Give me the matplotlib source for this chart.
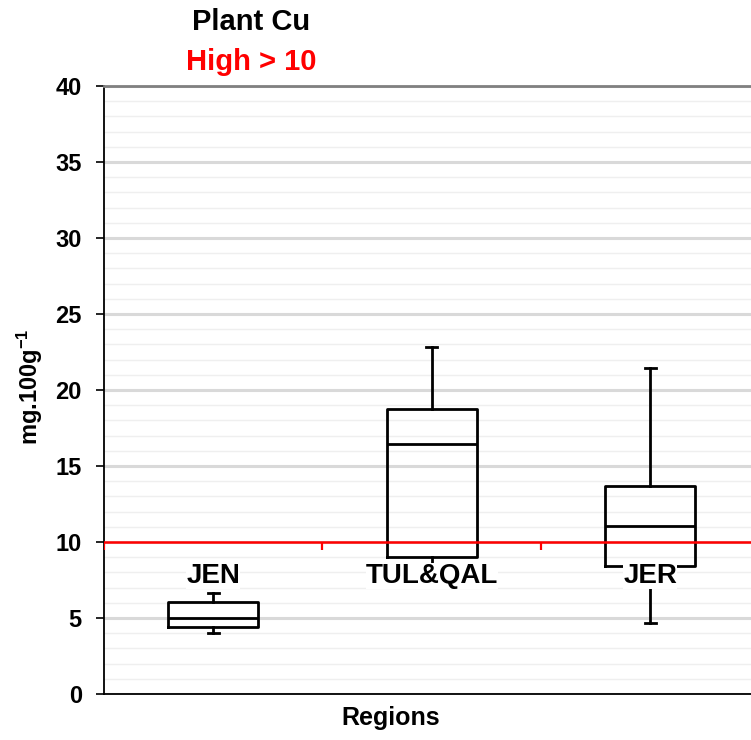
import numpy as np
import matplotlib
matplotlib.use("Agg")
import matplotlib.pyplot as plt

plt.rcParams["font.family"] = ["Liberation Sans", "DejaVu Sans"]
plt.rcParams["font.weight"] = "bold"
plt.rcParams["mathtext.fontset"] = "custom"
plt.rcParams["mathtext.bf"] = "Liberation Sans:bold"
plt.rcParams["mathtext.rm"] = "Liberation Sans:bold"
plt.rcParams["mathtext.default"] = "bf"

# box statistics (mg.100g-1)
regions = ["JEN", "TUL&QAL", "JER"]
whis_low = [4.03, 8.0, 4.65]
q1 = [4.41, 9.03, 8.44]
median = [4.98, 16.47, 11.07]
q3 = [6.08, 18.77, 13.68]
whis_high = [6.66, 22.8, 21.47]
threshold = 10

stats = []
for i, name in enumerate(regions):
    stats.append({"label": name, "whislo": whis_low[i], "q1": q1[i], "med": median[i],
                  "q3": q3[i], "whishi": whis_high[i], "fliers": []})

fig = plt.figure(figsize=(7.51, 7.40), dpi=100)
ax = fig.add_axes([104 / 751, 46 / 740, 655.5 / 751, 608 / 740])

positions = np.arange(1, len(regions) + 1)
line = dict(color="black", linewidth=2.0)
ax.bxp(stats, positions=positions, widths=0.41, capwidths=0.05, showfliers=False,
       boxprops=line, whiskerprops=line, capprops=line, medianprops=line, zorder=3)

ax.set_xlim(0.5, len(regions) + 0.5)
ax.set_ylim(0, 40)
ax.set_yticks(np.arange(0, 41, 5))
ax.set_yticks(np.arange(0, 41, 1), minor=True)
ax.tick_params(axis="y", which="major", direction="out", length=6, width=1.2,
               labelsize=17, pad=10)
ax.tick_params(axis="y", which="minor", length=0)
ax.set_xticks([])
for lab in ax.get_yticklabels():
    lab.set_fontweight("bold")

ax.grid(axis="y", which="minor", color="#efefef", linewidth=1.0, zorder=0)
ax.grid(axis="y", which="major", color="#d9d9d9", linewidth=2.2, zorder=0)
ax.set_axisbelow(True)

ax.spines["right"].set_visible(False)
ax.spines["top"].set_color("#808080")
ax.spines["top"].set_linewidth(2.0)
ax.spines["left"].set_linewidth(1.3)
ax.spines["bottom"].set_linewidth(1.3)

# threshold line acting as category axis
ax.axhline(threshold, color="red", linewidth=1.8, zorder=4)
bounds = np.arange(len(regions) + 1) + 0.5
ax.vlines(bounds, threshold - 0.55, threshold, color="red", linewidth=1.6, zorder=4)

for x, name in zip(positions, regions):
    ax.text(x, 7.75, name, ha="center", va="center", fontsize=20, fontweight="bold",
            zorder=5, bbox=dict(facecolor="white", edgecolor="none", pad=0))

fig.text(251 / 751, 1 - 22 / 740, "Plant Cu", ha="center", va="center", fontsize=21,
         fontweight="bold")
fig.text(251 / 751, 1 - 62 / 740, "High > 10", ha="center", va="center", fontsize=21,
         fontweight="bold", color="red")
fig.text(391 / 751, 1 - 718 / 740, "Regions", ha="center", va="center", fontsize=18,
         fontweight="bold")
fig.text(30 / 751, 1 - 387 / 740, "mg.100g$^{-1}$", ha="center", va="center",
         rotation=90, fontsize=17, fontweight="bold")

fig.savefig("out.png", dpi=100)
